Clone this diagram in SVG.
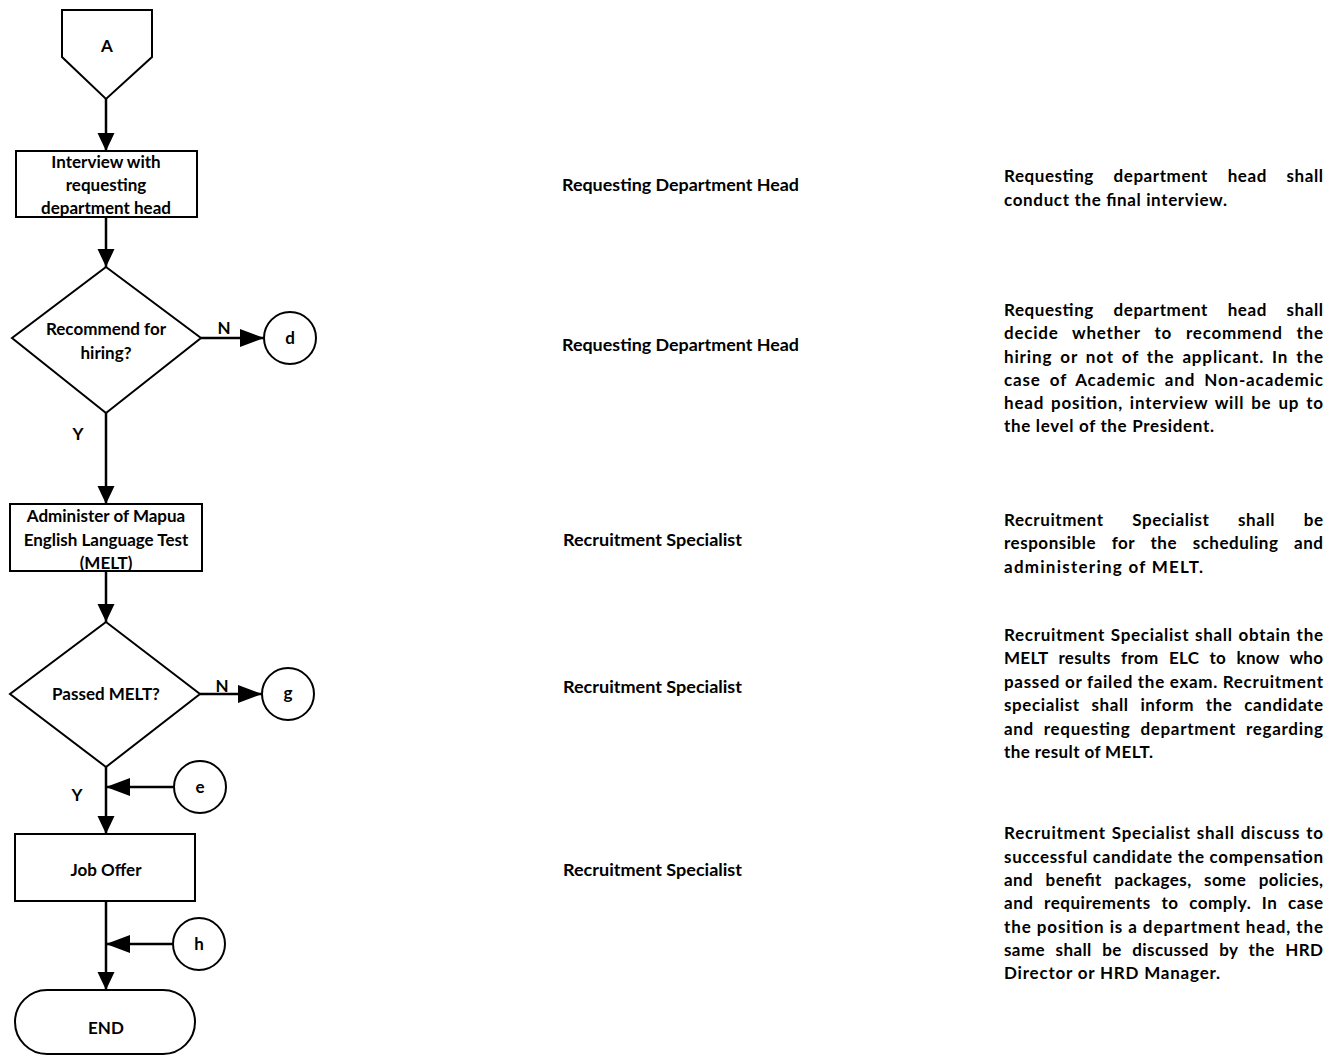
<svg xmlns="http://www.w3.org/2000/svg" width="1339" height="1057" viewBox="0 0 1339 1057">
<style>
.shape{fill:#fff;stroke:#000;stroke-width:2}
.con{fill:none;stroke:#000;stroke-width:2.5}
text{font-family:Lato,"Liberation Sans",sans-serif;font-size:17px;font-weight:700;fill:#000}
.c{text-anchor:middle}
</style>
<defs>
<marker id="av" markerUnits="userSpaceOnUse" markerWidth="18" markerHeight="18" refX="18" refY="8.5" orient="auto" viewBox="0 0 18 17"><path d="M0,0 L18,8.5 L0,17 z" fill="#000"/></marker>
<marker id="ah" markerUnits="userSpaceOnUse" markerWidth="24" markerHeight="18" refX="24" refY="9" orient="auto" viewBox="0 0 24 18"><path d="M0,0 L24,9 L0,18 z" fill="#000"/></marker>
</defs>

<g id="connectors">
<path class="con" d="M106,99 V151" marker-end="url(#av)"/>
<path class="con" d="M106,217 V267" marker-end="url(#av)"/>
<path class="con" d="M201,338 H264" marker-end="url(#ah)"/>
<path class="con" d="M106,413 V504" marker-end="url(#av)"/>
<path class="con" d="M106,571 V622" marker-end="url(#av)"/>
<path class="con" d="M200,694 H262" marker-end="url(#ah)"/>
<path class="con" d="M106,767 V834" marker-end="url(#av)"/>
<path class="con" d="M173,787 H106" marker-end="url(#ah)"/>
<path class="con" d="M106,901 V990" marker-end="url(#av)"/>
<path class="con" d="M172,944 H106" marker-end="url(#ah)"/>
<text x="224" y="334" class="c">N</text>
<text x="78" y="440" class="c">Y</text>
<text x="222" y="692" class="c">N</text>
<text x="77" y="801" class="c">Y</text>
</g>

<g id="nodeA">
<polygon class="shape" points="62,10 152,10 152,57 106,99 62,57"/>
<text x="107" y="52" class="c">A</text>
</g>
<g id="interview">
<rect class="shape" x="16" y="151" width="181" height="66"/>
<text x="106" y="168" class="c">Interview with</text>
<text x="106" y="191" class="c">requesting</text>
<text x="106" y="214" class="c">department head</text>
</g>
<g id="recommend">
<polygon class="shape" points="106,267 201,338 106,413 12,338"/>
<text x="106" y="335" class="c">Recommend for</text>
<text x="106" y="359" class="c">hiring?</text>
</g>
<g id="conn-d">
<circle class="shape" cx="290" cy="338" r="26"/>
<text x="290" y="344" class="c">d</text>
</g>
<g id="melt">
<rect class="shape" x="10" y="504" width="192" height="67"/>
<text x="106" y="522" class="c">Administer of Mapua</text>
<text x="106" y="546" class="c">English Language Test</text>
<text x="106" y="569" class="c">(MELT)</text>
</g>
<g id="passed">
<polygon class="shape" points="106,622 200,694 106,767 10,694"/>
<text x="106" y="700" class="c">Passed MELT?</text>
</g>
<g id="conn-g">
<circle class="shape" cx="288" cy="694" r="26"/>
<text x="288" y="699" class="c">g</text>
</g>
<g id="conn-e">
<circle class="shape" cx="200" cy="787" r="26"/>
<text x="200" y="793" class="c">e</text>
</g>
<g id="joboffer">
<rect class="shape" x="15" y="834" width="180" height="67"/>
<text x="106" y="876" class="c">Job Offer</text>
</g>
<g id="conn-h">
<circle class="shape" cx="199" cy="944" r="26"/>
<text x="199" y="950" class="c">h</text>
</g>
<g id="end">
<rect class="shape" x="15" y="990" width="180" height="64" rx="32" ry="32"/>
<text x="106" y="1034" class="c">END</text>
</g>

<g id="responsible">
<text x="562" y="191" textLength="237" lengthAdjust="spacingAndGlyphs">Requesting Department Head</text>
<text x="562" y="351" textLength="237" lengthAdjust="spacingAndGlyphs">Requesting Department Head</text>
<text x="563" y="546" textLength="179" lengthAdjust="spacingAndGlyphs">Recruitment Specialist</text>
<text x="563" y="693" textLength="179" lengthAdjust="spacingAndGlyphs">Recruitment Specialist</text>
<text x="563" y="876" textLength="179" lengthAdjust="spacingAndGlyphs">Recruitment Specialist</text>
</g>

<g id="descriptions">
<text x="1004" y="182" style="word-spacing:15px" textLength="319" lengthAdjust="spacing">Requesting department head shall</text>
<text x="1004" y="206" textLength="223" lengthAdjust="spacing">conduct the final interview.</text>

<text x="1004" y="316" style="word-spacing:15px" textLength="319" lengthAdjust="spacing">Requesting department head shall</text>
<text x="1004" y="339" style="word-spacing:9px" textLength="319" lengthAdjust="spacing">decide whether to recommend the</text>
<text x="1004" y="363" style="word-spacing:3px" textLength="319" lengthAdjust="spacing">hiring or not of the applicant. In the</text>
<text x="1004" y="386" style="word-spacing:4px" textLength="319" lengthAdjust="spacing">case of Academic and Non-academic</text>
<text x="1004" y="409" style="word-spacing:2px" textLength="319" lengthAdjust="spacing">head position, interview will be up to</text>
<text x="1004" y="432" textLength="210" lengthAdjust="spacing">the level of the President.</text>

<text x="1004" y="526" style="word-spacing:24px" textLength="319" lengthAdjust="spacing">Recruitment Specialist shall be</text>
<text x="1004" y="549" style="word-spacing:11px" textLength="319" lengthAdjust="spacing">responsible for the scheduling and</text>
<text x="1004" y="573" textLength="199" lengthAdjust="spacing">administering of MELT.</text>

<text x="1004" y="641" style="word-spacing:1px" textLength="319" lengthAdjust="spacing">Recruitment Specialist shall obtain the</text>
<text x="1004" y="664" style="word-spacing:6px" textLength="319" lengthAdjust="spacing">MELT results from ELC to know who</text>
<text x="1004" y="688" textLength="319" lengthAdjust="spacing">passed or failed the exam. Recruitment</text>
<text x="1004" y="711" style="word-spacing:7px" textLength="319" lengthAdjust="spacing">specialist shall inform the candidate</text>
<text x="1004" y="735" style="word-spacing:5px" textLength="319" lengthAdjust="spacing">and requesting department regarding</text>
<text x="1004" y="758" textLength="149" lengthAdjust="spacing">the result of MELT.</text>

<text x="1004" y="839" style="word-spacing:1px" textLength="319" lengthAdjust="spacing">Recruitment Specialist shall discuss to</text>
<text x="1004" y="863" textLength="319" lengthAdjust="spacing">successful candidate the compensation</text>
<text x="1004" y="886" style="word-spacing:8px" textLength="319" lengthAdjust="spacing">and benefit packages, some policies,</text>
<text x="1004" y="909" style="word-spacing:6px" textLength="319" lengthAdjust="spacing">and requirements to comply. In case</text>
<text x="1004" y="933" textLength="319" lengthAdjust="spacing">the position is a department head, the</text>
<text x="1004" y="956" style="word-spacing:6px" textLength="319" lengthAdjust="spacing">same shall be discussed by the HRD</text>
<text x="1004" y="979" textLength="216" lengthAdjust="spacing">Director or HRD Manager.</text>
</g>
</svg>
